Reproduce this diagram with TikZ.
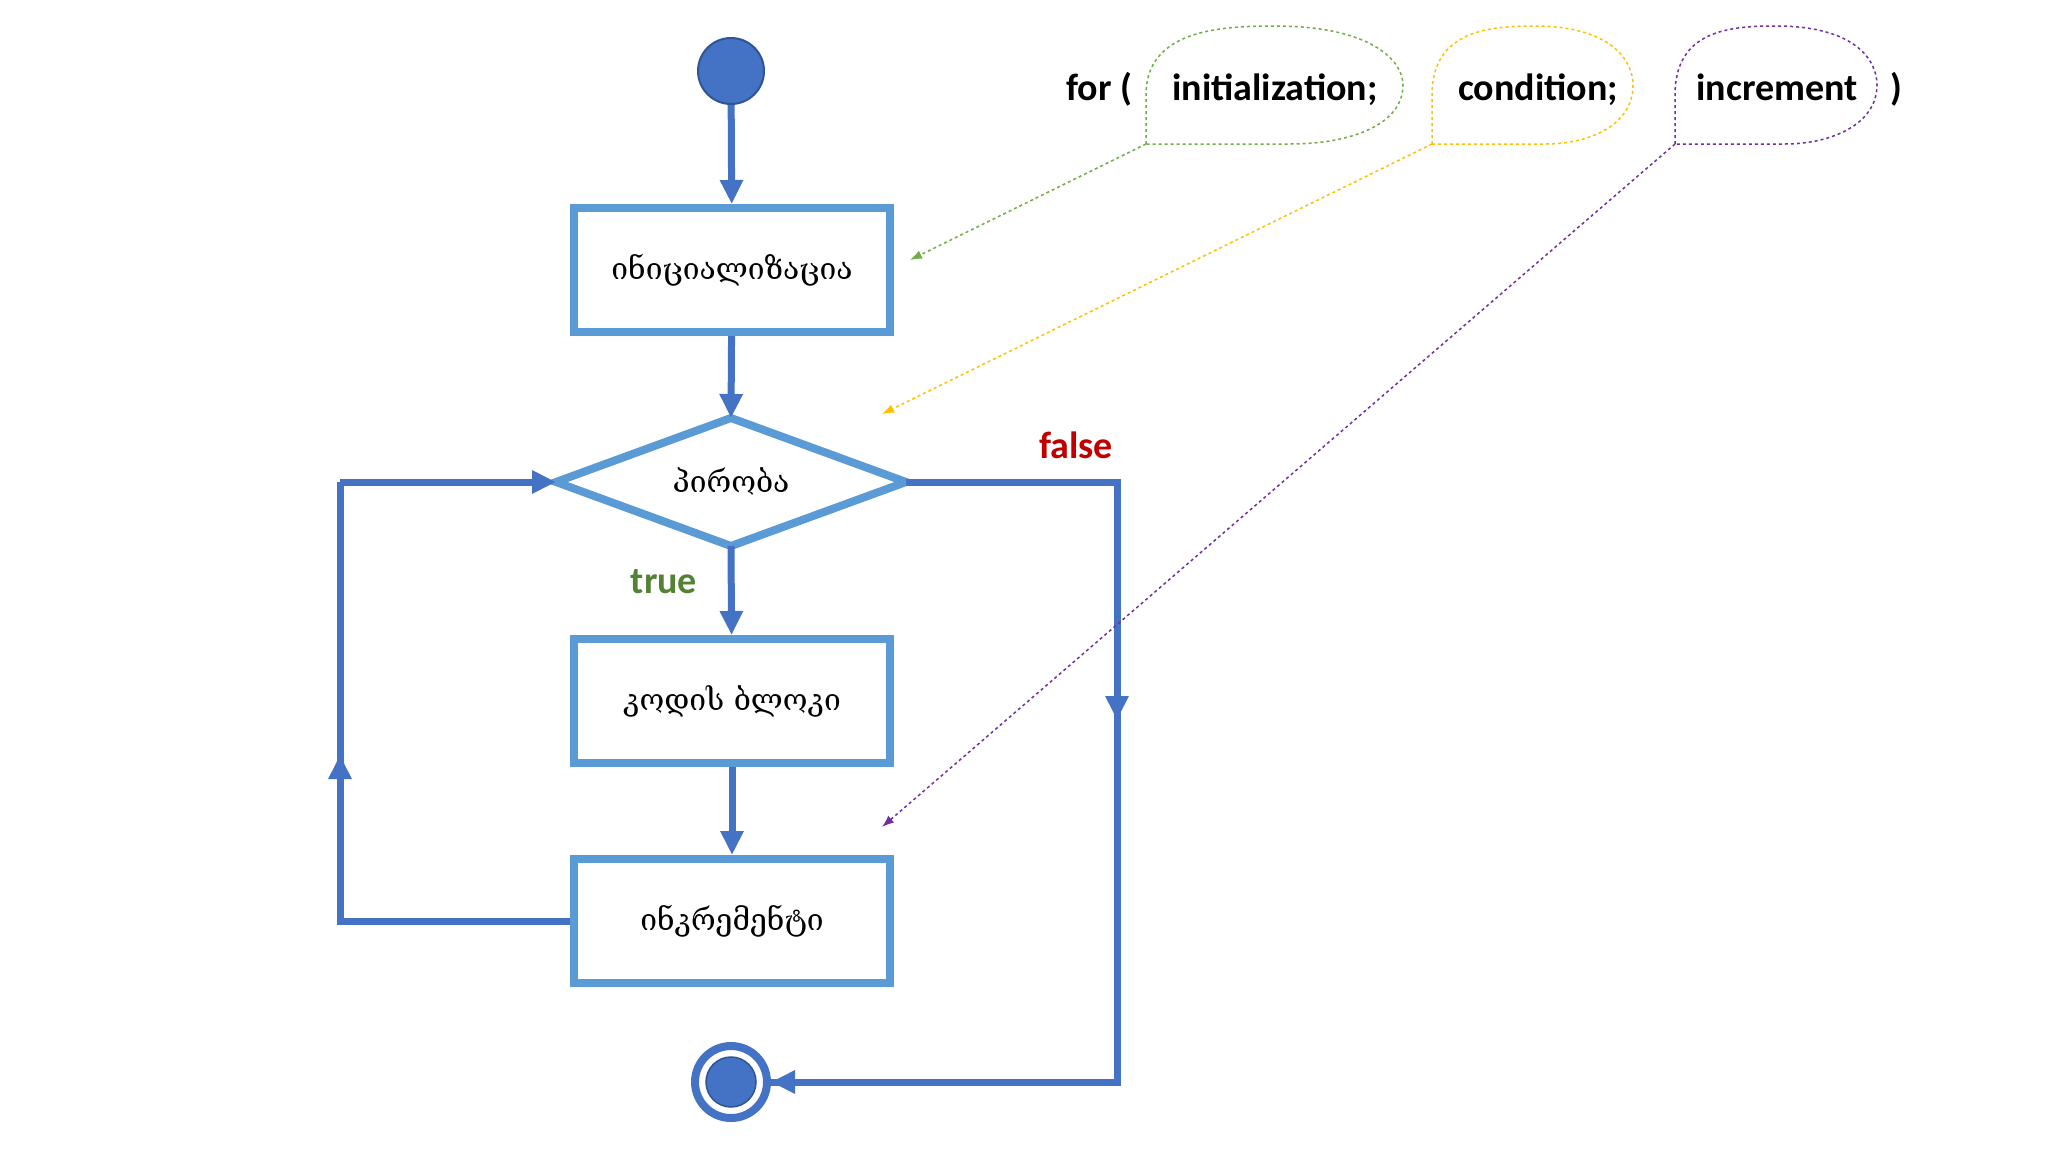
\documentclass[tikz,border=0pt]{standalone}
\usepackage{fontspec}
\setmainfont{Carlito}
\newfontfamily\geo{DejaVu Serif}
\usetikzlibrary{arrows.meta}
\definecolor{boxc}{HTML}{5B9BD5}
\definecolor{arr}{HTML}{4472C4}
\definecolor{dk}{HTML}{2F5597}
\definecolor{gr}{HTML}{70AD47}
\definecolor{ye}{HTML}{FFC000}
\definecolor{pu}{HTML}{7030A0}
\definecolor{tr}{HTML}{548235}
\definecolor{fa}{HTML}{C00000}
\begin{document}
\begin{tikzpicture}[x=1pt,y=-1pt,
 box/.style={draw=boxc,line width=8pt,fill=white,minimum width=316pt,minimum height=124pt,font=\geo\fontsize{30}{30}\selectfont},
 flow/.style={draw=arr,line width=7pt,-{Triangle[length=24pt,width=22pt]}},
 line/.style={draw=arr,line width=7pt},
 call/.style={dashed,line width=1.5pt},
 dar/.style={dashed,line width=1.5pt,-{Latex[length=12pt,width=9pt]}},
 big/.style={font=\bfseries\fontsize{38}{38}\selectfont,inner sep=0pt}]
\useasboundingbox (0,0) rectangle (2048,1152);
\fill[white] (0,0) rectangle (2048,1152);
\node[circle,fill=arr,draw=dk,line width=2pt,minimum size=66pt,inner sep=0pt] (s) at (731,71) {};
\node[box] (init) at (732,270) {ინიციალიზაცია};
\node[box] (code) at (732,701) {კოდის ბლოკი};
\node[box] (inc) at (732,921) {ინკრემენტი};
\coordinate (c) at (731,482);
\draw[boxc,line width=8pt,fill=white,line join=miter] (556,482) coordinate (dl) -- (731,418) coordinate (dt) -- (906,482) coordinate (dr) -- (731,546) coordinate (db) -- cycle;
\node[font=\geo\fontsize{30}{30}\selectfont] (cond) at (731,482) {პირობა};
\node[circle,draw=arr,line width=8pt,minimum size=72pt,inner sep=0pt] (e) at (731,1082) {};
\node[circle,fill=arr,draw=dk,line width=1.5pt,minimum size=50pt,inner sep=0pt] (ei) at (731,1082) {};
\draw[flow] (s) -- (init);
\draw[flow] (init) -- (dt);
\draw[flow] (db) -- (code);
\draw[flow] (code) -- (inc);
\coordinate (l1) at (340,921); \coordinate (l2) at (340,482);
\draw[line] (inc.west) -- (l1) -- (l2);
\draw[flow] (l1) -- (340,755);
\draw[flow] (l2) -- (dl);
\coordinate (r1) at (1117,482); \coordinate (r2) at (1117,1082);
\draw[line] (dr) -- (r1) -- (r2) -- (e.east);
\draw[flow] (r1) -- (1117,720);
\draw[flow] (r2) -- (e.east);
\node[big,text=fa] (fl) at (1076,445) {false};
\node[big,text=tr] (tl) at (664,582) {true};
% code line
\node[big,anchor=base west] (for) at (1066,100) {for (};
\node[big,anchor=base] (ini) at (1275,100) {initialization;};
\node[big,anchor=base] (cnd) at (1538,100) {condition;};
\node[big,anchor=base] (inr) at (1777,100) {increment};
\node[big,anchor=base west] (cl) at (1890,100) {)};
\draw[call,gr] (1146,144) coordinate (g0) -- (1146,95) .. controls (1146,30) and (1220,26) .. (1275,26) .. controls (1370,26) and (1403,60) .. (1403,85) .. controls (1403,125) and (1350,144) .. (1290,144) -- cycle;
\draw[call,ye] (1432,144) coordinate (y0) -- (1432,95) .. controls (1432,30) and (1490,26) .. (1535,26) .. controls (1610,26) and (1633,60) .. (1633,85) .. controls (1633,125) and (1590,144) .. (1545,144) -- cycle;
\draw[call,pu] (1675,144) coordinate (p0) -- (1675,95) .. controls (1675,30) and (1730,26) .. (1776,26) .. controls (1855,26) and (1877,60) .. (1877,85) .. controls (1877,125) and (1830,144) .. (1785,144) -- cycle;
\coordinate (ga) at (910,260); \coordinate (ya) at (882,414); \coordinate (pa) at (882,827);
\draw[dar,gr] (g0) -- (ga);
\draw[dar,ye] (y0) -- (ya);
\draw[dar,pu] (p0) -- (pa);
\end{tikzpicture}
\end{document}
